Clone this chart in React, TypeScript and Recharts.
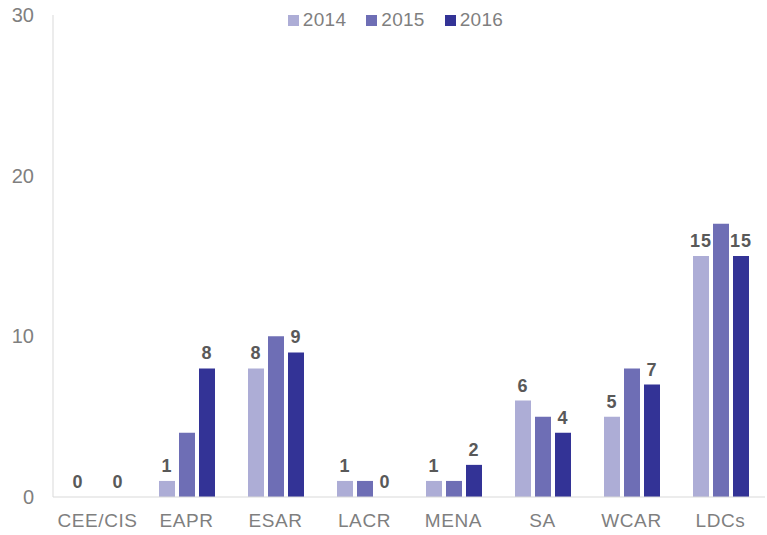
import React from 'react';
import { BarChart, Bar, XAxis, YAxis, Legend, LabelList } from 'recharts';

const regions = ['CEE/CIS', 'EAPR', 'ESAR', 'LACR', 'MENA', 'SA', 'WCAR', 'LDCs'];
const values2014 = [0, 1, 8, 1, 1, 6, 5, 15];
const values2015 = [0, 4, 10, 1, 1, 5, 8, 17];
const values2016 = [0, 8, 9, 0, 2, 4, 7, 15];
const yTicks = [0, 10, 20, 30];

const series = [
  { key: 'y2014', name: '2014', color: '#adadd6', labelled: true },
  { key: 'y2015', name: '2015', color: '#6e6eb5', labelled: false },
  { key: 'y2016', name: '2016', color: '#333396', labelled: true },
];

const chartData = regions.map((region, i) => ({
  region,
  y2014: values2014[i],
  y2015: values2015[i],
  y2016: values2016[i],
}));

const FONT = 'Arial, "Liberation Sans", sans-serif';

const renderLegend = () => (
  <div style={{ display: 'flex', justifyContent: 'center', fontFamily: FONT, fontSize: 19, letterSpacing: 0.3, color: '#7f7f7f' }}>
    {series.map(s => (
      <div key={s.key} style={{ display: 'flex', alignItems: 'center', margin: '0 10px' }}>
        <span style={{ width: 11, height: 11, background: s.color, display: 'inline-block', marginRight: 4 }} />
        <span>{s.name}</span>
      </div>
    ))}
  </div>
);

const App: React.FC = () => {
  return (
    <div style={{ position: 'absolute', left: 0, top: 0 }}>
      <BarChart
        width={767}
        height={535}
        data={chartData}
        margin={{ top: 15, right: 2, bottom: 0, left: 0 }}
        barSize={16}
        barGap={4}
      >
        <XAxis
          dataKey="region"
          height={38}
          axisLine={{ stroke: '#d9d9d9' }}
          tickLine={false}
          tickSize={0}
          tickMargin={17}
          tick={{ fill: '#7f7f7f', fontSize: 19, fontFamily: FONT, letterSpacing: 0.6 }}
        />
        <YAxis
          width={53}
          domain={[0, 30]}
          ticks={yTicks}
          axisLine={{ stroke: '#d9d9d9' }}
          tickLine={false}
          tickSize={0}
          tickMargin={19}
          tick={{ fill: '#7f7f7f', fontSize: 20, fontFamily: FONT }}
        />
        <Legend
          verticalAlign="middle"
          align="center"
          content={renderLegend}
          wrapperStyle={{ top: 9, left: 12, width: 767 }}
        />
        {series.map(s => (
          <Bar
            key={s.key}
            dataKey={s.key}
            name={s.name}
            fill={s.color}
            minPointSize={0.01}
            isAnimationActive={false}
          >
            {s.labelled && (
              <LabelList
                dataKey={s.key}
                position="top"
                offset={9}
                fill="#595959"
                fontSize={18}
                fontWeight="bold"
                letterSpacing={1}
                fontFamily={FONT}
              />
            )}
          </Bar>
        ))}
      </BarChart>
    </div>
  );
};

export default App;
